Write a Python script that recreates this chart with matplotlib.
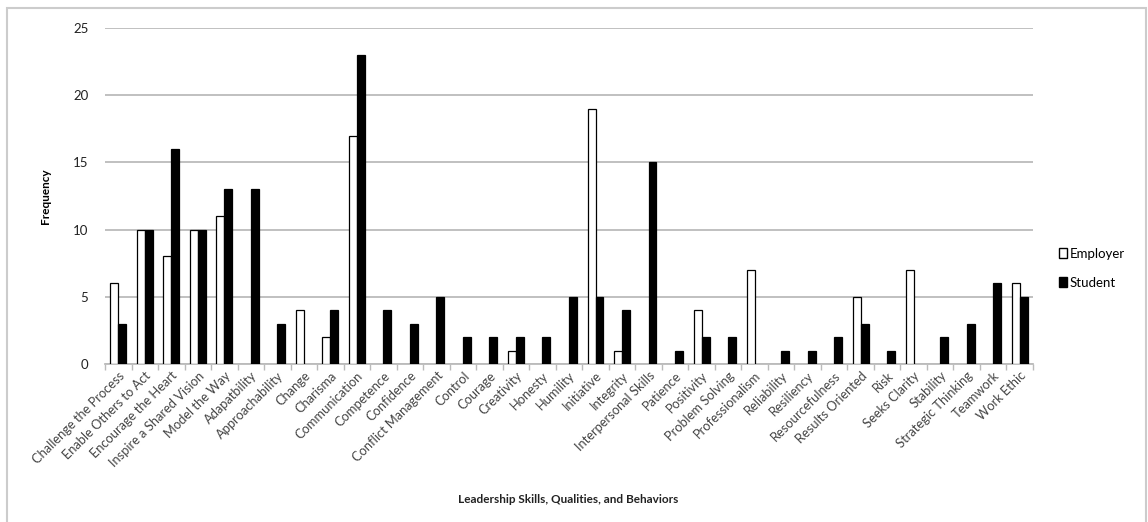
import numpy as np
import matplotlib.pyplot as plt
from matplotlib.patches import Rectangle, Patch

plt.rcParams['font.family'] = ['Lato', 'DejaVu Sans']

#------------- Data -----------------#
categories = ['Challenge the Process', 'Enable Others to Act', 'Encourage the Heart',
              'Inspire a Shared Vision', 'Model the Way', 'Adapatbility', 'Approachability',
              'Change', 'Charisma', 'Communication', 'Competence', 'Confidence',
              'Conflict Management', 'Control', 'Courage', 'Creativity', 'Honesty',
              'Humility', 'Initiative', 'Integrity', 'Interpersonal Skills', 'Patience',
              'Positivity', 'Problem Solving', 'Professionalism', 'Reliability', 'Resiliency',
              'Resourcefulness', 'Results Oriented', 'Risk', 'Seeks Clarity', 'Stability',
              'Strategic Thinking', 'Teamwork', 'Work Ethic']
employer = [6, 10, 8, 10, 11, 0, 0, 4, 2, 17, 0, 0, 0, 0, 0, 1, 0, 0, 19, 1, 0, 0,
            4, 0, 7, 0, 0, 0, 5, 0, 7, 0, 0, 0, 6]
student = [3, 10, 16, 10, 13, 13, 3, 0, 4, 23, 4, 3, 5, 2, 2, 2, 2, 5, 5, 4, 15, 1,
           2, 2, 0, 1, 1, 2, 3, 1, 0, 2, 3, 6, 5]

#------------- Plot -----------------#
fig = plt.figure(figsize=(11.48, 5.22), dpi=100)
ax = fig.add_axes([0.0915, 0.3027, 0.8083, 0.6437])

x = np.arange(len(categories))
w = 0.3
for i in x:
    if employer[i] > 0:
        ax.bar(i - w / 2, employer[i], w, color='white', edgecolor='black', linewidth=0.9, zorder=3)
    if student[i] > 0:
        ax.bar(i + w / 2, student[i], w, color='black', edgecolor='black', linewidth=0.9, zorder=3)

ax.set_xlim(-0.5, len(categories) - 0.5)
ax.set_ylim(0, 25)
ax.set_yticks([0, 5, 10, 15, 20, 25])
ax.yaxis.grid(True, color='#bbbbbb', linewidth=1.3, zorder=0)
ax.set_axisbelow(True)
for s in ['top', 'right', 'left']:
    ax.spines[s].set_visible(False)
ax.spines['bottom'].set_color('#bbbbbb')
ax.spines['bottom'].set_linewidth(1.3)
ax.tick_params(axis='y', length=0, labelsize=9.5, colors='#222222', pad=12)

ax.set_xticks(x)
ax.set_xticklabels(categories, rotation=45, ha='right', rotation_mode='anchor', fontsize=9.3, color='#444444')
ax.tick_params(axis='x', length=0, pad=4)
ax.set_xticks(np.arange(-0.5, len(categories)), minor=True)
ax.tick_params(axis='x', which='minor', length=4, color='#bbbbbb', width=1)

ax.set_ylabel('Frequency', fontsize=8.5, fontweight='bold', labelpad=16)
fig.text(0.495, 0.044, 'Leadership Skills, Qualities, and Behaviors', ha='center', va='center',
         fontsize=8.5, fontweight='bold', color='#222222')

handles = [Patch(facecolor='white', edgecolor='black', label='Employer'),
           Patch(facecolor='black', edgecolor='black', label='Student')]
ax.legend(handles=handles, loc='center left', bbox_to_anchor=(1.015, 0.285), frameon=False,
          fontsize=9.5, handlelength=0.6, handleheight=0.8, handletextpad=0.2, labelspacing=1.3)

fig.patches.append(Rectangle((7 / 1148, -0.1), 1139 / 1148, 1.1 - 8 / 522, transform=fig.transFigure,
                             fill=False, edgecolor='#cccccc', linewidth=1.5))

plt.savefig('out.png', dpi=100)
